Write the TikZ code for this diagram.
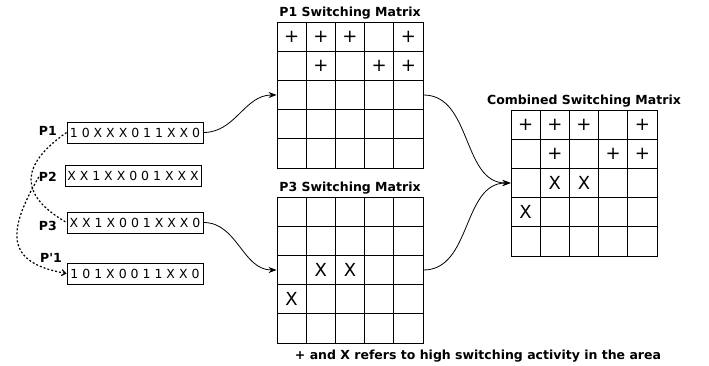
\documentclass[tikz,border=0pt]{standalone}
\usepackage{fontspec}
\setmainfont{DejaVu Sans}
\usetikzlibrary{positioning, arrows.meta}

\begin{document}
\begin{tikzpicture}[x=1pt, y=1pt,
    cell/.style={draw, line width=0.9pt, minimum size=29.2pt, inner sep=0pt},
    hit/.style={inner sep=0pt, font=\fontsize{18}{18}\selectfont},
    vec/.style={draw, line width=0.9pt, minimum width=136pt, minimum height=21pt, inner sep=0pt, font=\fontsize{12.5}{14}\selectfont},
    veclab/.style={font=\fontsize{12.5}{14}\selectfont\bfseries, inner sep=0pt, anchor=east},
    mcap/.style={font=\fontsize{12.5}{14}\selectfont\bfseries, inner sep=1pt},
    feed/.style={-{Stealth[length=8pt, width=6pt]}, line width=0.8pt},
    swap/.style={dash pattern=on 2pt off 2pt, line width=1.2pt}
  ]
  \useasboundingbox (0,0) rectangle (709,366);

  % pattern vectors
  \node[vec] (p1) at (135,233.5) {1 0 X X X 0 1 1 X X 0};
  \node[vec] (p2) at (133,190) {X X 1 X X 0 0 1 X X X};
  \node[vec] (p3) at (135,143.5) {X X 1 X 0 0 1 X X X 0};
  \node[vec] (p1n) at (135,92.5) {1 0 1 X 0 0 1 1 X X 0};
  \node[veclab] (p1lab) at (57,235) {P1};
  \node[veclab] (p2lab) at (57,189) {P2};
  \node[veclab] (p3lab) at (57,140) {P3};
  \node[veclab] (p1nlab) at (62,108) {P\textquotesingle 1};

  % P1 matrix
  \begin{scope}[shift={(277,344)}]
    \foreach \r in {0,...,4} {
      \foreach \c in {0,...,4} {
        \node[cell] (a-\r-\c) at (14.6+\c*29.2, -14.6-\r*29.2) {};
      }
    }
    \foreach \r/\c in {0/0, 0/1, 0/2, 0/4, 1/1, 1/3, 1/4} {
      \node[hit] (aplus-\r-\c) at (a-\r-\c) {+};
    }
  \end{scope}
  \node[mcap, above=1pt of a-0-2] (acap) {P1 Switching Matrix};

  % P3 matrix
  \begin{scope}[shift={(277,169)}]
    \foreach \r in {0,...,4} {
      \foreach \c in {0,...,4} {
        \node[cell] (b-\r-\c) at (14.6+\c*29.2, -14.6-\r*29.2) {};
      }
    }
    \foreach \r/\c in {2/1, 2/2, 3/0} {
      \node[hit] (bx-\r-\c) at (b-\r-\c) {X};
    }
  \end{scope}
  \node[mcap, above=1pt of b-0-2] (bcap) {P3 Switching Matrix};

  % combined matrix
  \begin{scope}[shift={(511,256)}]
    \foreach \r in {0,...,4} {
      \foreach \c in {0,...,4} {
        \node[cell] (c-\r-\c) at (14.6+\c*29.2, -14.6-\r*29.2) {};
      }
    }
    \foreach \r/\c in {0/0, 0/1, 0/2, 0/4, 1/1, 1/3, 1/4} {
      \node[hit] (cplus-\r-\c) at (c-\r-\c) {+};
    }
    \foreach \r/\c in {2/1, 2/2, 3/0} {
      \node[hit] (cx-\r-\c) at (c-\r-\c) {X};
    }
  \end{scope}
  \node[mcap, above=1pt of c-0-2] (ccap) {Combined Switching Matrix};

  \node[mcap] (note) at (478,10) {+ and X refers to high switching activity in the area};

  % arrows
  \draw[feed] (p1.east) to[out=0, in=180] (a-2-0.west);
  \draw[feed] (p3.east) to[out=0, in=180] (b-2-0.west);
  \draw[feed] (a-2-4.east) to[out=0, in=180] (c-2-0.west);
  \draw[feed] (b-2-4.east) to[out=0, in=180] (c-2-0.west);

  % crossover
  \draw[swap] (p1.west) to[out=215, in=150, looseness=1.6] (p3.west);
  \draw[swap, -{Straight Barb[length=4pt, width=6pt]}] (p2lab.west) to[out=240, in=170, looseness=1.6] (p1n.west);
\end{tikzpicture}
\end{document}
